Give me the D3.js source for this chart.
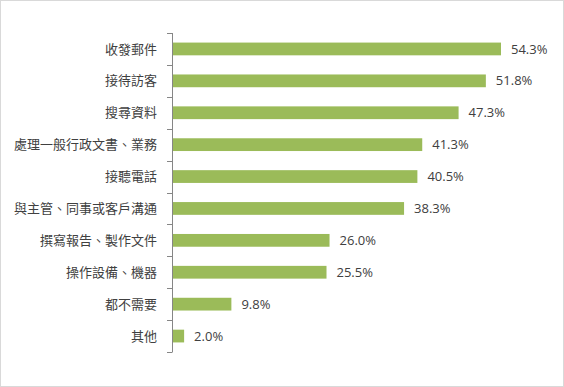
<!DOCTYPE html>
<html>
<head>
<meta charset="utf-8">
<script src="https://cdn.jsdelivr.net/npm/d3@7"></script>
<style>
  body { margin: 0; background: #fff; }
</style>
</head>
<body>
<svg id="chart" width="564" height="387"></svg>
<script>
// categories and values (percent)
var categories = ["收發郵件", "接待訪客", "搜尋資料", "處理一般行政文書、業務", "接聽電話",
                  "與主管、同事或客戶溝通", "撰寫報告、製作文件", "操作設備、機器", "都不需要", "其他"];
var values = [54.3, 51.8, 47.3, 41.3, 40.5, 38.3, 26.0, 25.5, 9.8, 2.0];

var svg = d3.select("#chart"),
    margin = {top: 33, right: 63, bottom: 35, left: 172},
    width = +svg.attr("width") - margin.left - margin.right,
    height = +svg.attr("height") - margin.top - margin.bottom;

// outer frame
svg.append("rect")
    .attr("x", 0.5).attr("y", 0.5)
    .attr("width", 563).attr("height", 386)
    .attr("fill", "#fff")
    .attr("stroke", "#d9d9d9");

var g = svg.append("g").attr("transform", "translate(" + margin.left + "," + margin.top + ")");

var x = d3.scaleLinear().domain([0, 54.3]).range([0, 329]);
var y = d3.scaleBand().domain(categories).range([0, 319]).paddingInner(0.6).paddingOuter(0.3);

// bars
g.selectAll(".bar")
    .data(values)
  .enter().append("rect")
    .attr("class", "bar")
    .attr("x", 0)
    .attr("y", function(d, i) { return y(categories[i]); })
    .attr("width", function(d) { return x(d); })
    .attr("height", y.bandwidth())
    .attr("fill", "#9bbb59");

// value labels
g.selectAll(".val")
    .data(values)
  .enter().append("text")
    .attr("class", "val")
    .attr("x", function(d) { return x(d) + 10; })
    .attr("y", function(d, i) { return y(categories[i]) + y.bandwidth() / 2; })
    .attr("dy", "0.35em")
    .attr("fill", "#404040")
    .attr("font-family", "'Open Sans', 'Noto Sans', sans-serif")
    .attr("font-size", 13)
    .text(function(d) { return d.toFixed(1) + "%"; });

// y axis with ticks between the categories
g.append("line")
    .attr("x1", 0.5).attr("x2", 0.5)
    .attr("y1", 0).attr("y2", 319)
    .attr("stroke", "#868686");
g.selectAll(".tk")
    .data(d3.range(categories.length + 1))
  .enter().append("line")
    .attr("class", "tk")
    .attr("x1", -5).attr("x2", 0.5)
    .attr("y1", function(i) { return Math.round(i * 319 / categories.length) + 0.5; })
    .attr("y2", function(i) { return Math.round(i * 319 / categories.length) + 0.5; })
    .attr("stroke", "#868686");

// category labels
g.selectAll(".cat")
    .data(categories)
  .enter().append("text")
    .attr("class", "cat")
    .attr("x", -15)
    .attr("y", function(d) { return y(d) + y.bandwidth() / 2; })
    .attr("dy", "0.35em")
    .attr("text-anchor", "end")
    .attr("fill", "#404040")
    .attr("font-family", "'Noto Sans CJK TC', sans-serif")
    .attr("font-size", 13)
    .text(function(d) { return d; });
</script>
</body>
</html>
